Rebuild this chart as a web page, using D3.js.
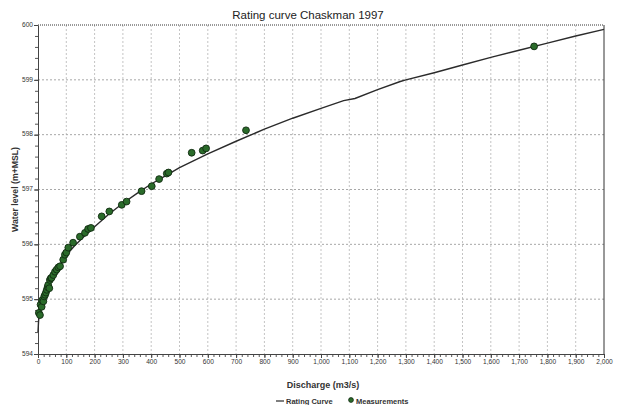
<!DOCTYPE html>
<html>
<head>
<meta charset="utf-8">
<script src="https://cdn.jsdelivr.net/npm/d3@7"></script>
<style>
  body { margin: 0; background: #fff; }
  text { font-family: "Liberation Sans", Arial, sans-serif; }
</style>
</head>
<body>
<svg id="chart" width="620" height="405"></svg>
<script>
"use strict";

// rating curve (discharge m3/s, water level m+MSL)
const curveQ = [0, 2, 5, 10, 20, 40, 60, 80, 100, 130, 160, 200, 250, 300, 350, 400, 450, 500,
    560, 600, 700, 800, 900, 1000, 1080, 1120, 1200, 1280, 1300, 1400, 1500, 1600, 1700, 1800, 1900, 2000];
const curveH = [594.40, 594.60, 594.75, 594.88, 595.05, 595.30, 595.50, 595.65, 595.80, 595.98, 596.13,
    596.32, 596.55, 596.75, 596.93, 597.10, 597.25, 597.40, 597.55, 597.65, 597.88, 598.10, 598.30,
    598.48, 598.62, 598.66, 598.82, 598.97, 599.00, 599.13, 599.27, 599.41, 599.54, 599.67, 599.80, 599.92];

// gauged measurements
const measQ = [3, 7, 9, 13, 15, 19, 22, 25, 28, 31, 34, 36, 40, 42, 45, 48, 54, 60, 66, 72, 78, 89, 95,
    100, 107, 124, 148, 166, 177, 187, 225, 252, 296, 313, 366, 402, 428, 455, 461, 543, 582, 594, 735, 1753];
const measH = [594.75, 594.71, 594.90, 594.86, 594.98, 594.96, 595.05, 595.08, 595.12, 595.17, 595.22,
    595.26, 595.20, 595.35, 595.38, 595.39, 595.44, 595.50, 595.54, 595.58, 595.60, 595.72, 595.81,
    595.85, 595.94, 596.03, 596.14, 596.21, 596.28, 596.30, 596.51, 596.60, 596.72, 596.78, 596.97,
    597.06, 597.19, 597.29, 597.31, 597.67, 597.71, 597.75, 598.08, 599.61];

const xTicks = d3.range(0, 2001, 100);
const yTicks = [594, 595, 596, 597, 598, 599, 600];

const margin = {left: 38, right: 16, top: 25, bottom: 51};
const width = 620, height = 405;

const svg = d3.select("#chart");

const x = d3.scaleLinear().domain([0, 2000]).range([margin.left, width - margin.right]);
const y = d3.scaleLinear().domain([594, 600]).range([height - margin.bottom, margin.top]);

// grid
svg.append("g")
    .selectAll("line")
    .data(xTicks.slice(1, -1))
    .join("line")
    .attr("x1", d => x(d)).attr("x2", d => x(d))
    .attr("y1", y(600)).attr("y2", y(594))
    .attr("stroke", "#c4c4c4")
    .attr("stroke-dasharray", "2,2");

svg.append("g")
    .selectAll("line")
    .data(yTicks.slice(1, -1))
    .join("line")
    .attr("x1", x(0)).attr("x2", x(2000))
    .attr("y1", d => y(d)).attr("y2", d => y(d))
    .attr("stroke", "#a8a8a8")
    .attr("stroke-dasharray", "2,2");

// frame: dotted top, solid right
svg.append("line")
    .attr("x1", x(0)).attr("x2", x(2000))
    .attr("y1", y(600)).attr("y2", y(600))
    .attr("stroke", "#333").attr("stroke-dasharray", "1,1");
svg.append("line")
    .attr("x1", x(2000)).attr("x2", x(2000))
    .attr("y1", y(600)).attr("y2", y(594))
    .attr("stroke", "#333");

// axes
const fmt = d3.format(",");
const xMinor = svg.append("g")
    .attr("transform", `translate(0,${y(594)})`)
    .call(d3.axisBottom(x).tickValues(d3.range(0, 2001, 20)).tickSize(3).tickFormat(""));
xMinor.select(".domain").remove();
xMinor.selectAll("line").attr("stroke", "#555");

const xAxis = svg.append("g")
    .attr("transform", `translate(0,${y(594)})`)
    .call(d3.axisBottom(x).tickValues(xTicks).tickSize(4).tickFormat(fmt).tickSizeOuter(0));
xAxis.select(".domain").attr("stroke", "#444");
xAxis.selectAll("line").attr("stroke", "#444");
xAxis.selectAll("text")
    .attr("fill", "#333")
    .style("font-size", "6.6px")
    .attr("y", 4)
    .attr("dy", "0.9em");

const yMinor = svg.append("g")
    .attr("transform", `translate(${x(0)},0)`)
    .call(d3.axisLeft(y).tickValues(d3.range(594, 600.01, 0.2)).tickSize(3).tickFormat(""));
yMinor.select(".domain").remove();
yMinor.selectAll("line").attr("stroke", "#555");

const yAxis = svg.append("g")
    .attr("transform", `translate(${x(0)},0)`)
    .call(d3.axisLeft(y).tickValues(yTicks).tickSize(4).tickFormat(d3.format("d")).tickSizeOuter(0));
yAxis.select(".domain").attr("stroke", "#444");
yAxis.selectAll("line").attr("stroke", "#444");
yAxis.selectAll("text")
    .attr("fill", "#333")
    .attr("x", -5)
    .attr("dy", "0.2em")
    .style("font-size", "6.6px");

// rating curve
const line = d3.line()
    .x((d, i) => x(curveQ[i]))
    .y(d => y(d));

svg.append("path")
    .datum(curveH)
    .attr("d", line)
    .attr("fill", "none")
    .attr("stroke", "#2b2b2b")
    .attr("stroke-width", 1.4);

// measurements
svg.append("g")
    .selectAll("circle")
    .data(measQ)
    .join("circle")
    .attr("cx", d => x(d))
    .attr("cy", (d, i) => y(measH[i]))
    .attr("r", 3.4)
    .attr("fill", "#2a6b2a")
    .attr("stroke", "#112a11")
    .attr("stroke-width", 0.9);

// titles
svg.append("text")
    .attr("x", 308).attr("y", 19)
    .attr("text-anchor", "middle")
    .style("font-size", "11.5px")
    .attr("fill", "#222")
    .text("Rating curve Chaskman 1997");

svg.append("text")
    .attr("transform", `translate(18,${(y(594) + y(600)) / 2}) rotate(-90)`)
    .attr("text-anchor", "middle")
    .style("font-size", "8.7px")
    .style("font-weight", "bold")
    .attr("fill", "#333")
    .text("Water level (m+MSL)");

svg.append("text")
    .attr("x", 323).attr("y", 388)
    .attr("text-anchor", "middle")
    .style("font-size", "9px")
    .style("font-weight", "bold")
    .attr("fill", "#333")
    .text("Discharge (m3/s)");

// legend
const leg = svg.append("g").attr("transform", "translate(276,404)");
leg.append("line")
    .attr("x1", 0).attr("x2", 8).attr("y1", -3).attr("y2", -3)
    .attr("stroke", "#2b2b2b").attr("stroke-width", 1.2);
leg.append("text")
    .attr("x", 10).attr("y", 0)
    .style("font-size", "7.5px").style("font-weight", "bold")
    .attr("fill", "#333")
    .text("Rating Curve");
leg.append("circle")
    .attr("cx", 75).attr("cy", -4).attr("r", 2.4)
    .attr("fill", "#2a6b2a").attr("stroke", "#112a11").attr("stroke-width", 0.8);
leg.append("text")
    .attr("x", 80).attr("y", 0)
    .style("font-size", "7.5px").style("font-weight", "bold")
    .attr("fill", "#333")
    .text("Measurements");
</script>
</body>
</html>
